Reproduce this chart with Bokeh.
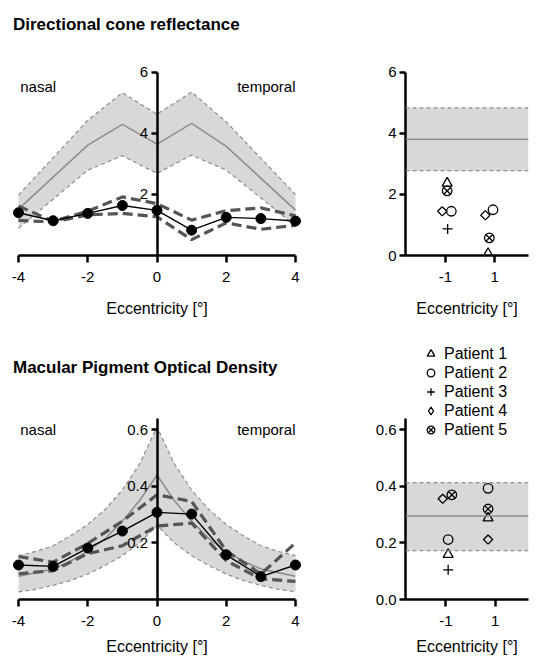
from bokeh.plotting import figure
from bokeh.models import (Range1d, LinearAxis, FixedTicker, PrintfTickFormatter, Label,
                          BoxAnnotation, Span, Legend, LegendItem)
from bokeh.layouts import column, row
from bokeh.embed import file_html
from bokeh.resources import INLINE

FONT = "Liberation Sans"
nan = float("nan")

# ---------------- data ----------------
ecc = [-4, -3, -2, -1, 0, 1, 2, 3, 4]

# Directional cone reflectance: normative band (mean +/- SD)
dcr_norm_x = [-4, -2, -1, 0, 1, 2, 4]
dcr_norm_mean = [1.52, 3.62, 4.30, 3.65, 4.33, 3.58, 1.49]
dcr_norm_upper = [1.98, 4.43, 5.34, 4.63, 5.36, 4.38, 2.00]
dcr_norm_lower = [0.89, 2.80, 3.27, 2.69, 3.29, 2.80, 0.97]

# Directional cone reflectance: patients mean +/- SD
dcr_pat_mean = [1.40, 1.14, 1.38, 1.64, 1.48, 0.83, 1.25, 1.21, 1.13]
dcr_pat_upper = [1.62, 1.12, 1.45, 1.92, 1.70, 1.16, 1.47, 1.56, 1.30]
dcr_pat_lower = [1.15, 1.10, 1.33, 1.38, 1.27, 0.52, 1.07, 0.86, 0.99]

# Macular pigment optical density: normative band
mpod_norm_x = [-4, -3.5, -3, -2.5, -2, -1.5, -1, -0.5, 0, 0.5, 1, 1.5, 2, 2.5, 3, 3.5, 4]
mpod_norm_mean = [0.082, 0.095, 0.108, 0.135, 0.170, 0.215, 0.277, 0.350, 0.440,
                  0.350, 0.277, 0.215, 0.170, 0.135, 0.108, 0.095, 0.082]
mpod_norm_upper = [0.155, 0.170, 0.190, 0.225, 0.265, 0.318, 0.387, 0.480, 0.610,
                   0.480, 0.387, 0.318, 0.265, 0.225, 0.190, 0.170, 0.155]
mpod_norm_lower = [0.027, 0.036, 0.050, 0.067, 0.090, 0.120, 0.155, 0.200, 0.262,
                   0.200, 0.155, 0.120, 0.090, 0.067, 0.050, 0.036, 0.027]

# Macular pigment optical density: patients mean +/- SD
mpod_pat_mean = [0.122, 0.117, 0.182, 0.242, 0.308, 0.302, 0.158, 0.081, 0.122]
mpod_pat_upper = [0.152, 0.132, 0.198, 0.277, 0.370, 0.347, 0.172, 0.090, 0.200]
mpod_pat_lower = [0.091, 0.102, 0.162, 0.190, 0.260, 0.270, 0.137, 0.073, 0.064]

# Individual patients (right panels)
patients = ["Patient 1", "Patient 2", "Patient 3", "Patient 4", "Patient 5"]
markers = ["triangle", "circle", "cross", "square", "circle_x"]
legend_markers = ["triangle", "circle", "cross", "diamond", "circle_x"]
marker_angles = [0.0, 0.0, 0.0, 0.7854, 0.0]
marker_sizes = [10, 9.5, 10, 6.5, 9.5]

dcr_x_m1 = [-0.93, -0.76, -0.91, -1.13, -0.93]
dcr_x_p1 = [0.73, 0.93, nan, 0.62, 0.78]
dcr_val_m1 = [2.37, 1.45, 0.87, 1.45, 2.12]
dcr_val_p1 = [0.06, 1.50, nan, 1.32, 0.58]
dcr_ref = [2.78, 3.81, 4.84]   # lower, mean, upper

mpod_x_m1 = [-0.91, -0.91, -0.91, -1.13, -0.76]
mpod_x_p1 = [0.71, 0.71, nan, 0.71, 0.71]
mpod_val_m1 = [0.159, 0.212, 0.105, 0.356, 0.370]
mpod_val_p1 = [0.288, 0.393, nan, 0.212, 0.320]
mpod_ref = [0.173, 0.295, 0.413]

BAND_FILL = "#d8d8d8"
BAND_EDGE = "#8f8f8f"
DARK_DASH = "#555555"


def style_axis(ax, tick_out=6, standoff=4):
    ax.axis_line_width = 2.5
    ax.axis_line_color = "black"
    ax.major_tick_line_width = 2.5
    ax.major_tick_line_color = "black"
    ax.major_tick_in = 0
    ax.major_tick_out = tick_out
    ax.minor_tick_line_color = None
    ax.major_label_standoff = standoff
    ax.major_label_text_font = FONT
    ax.major_label_text_font_size = "15px"
    ax.major_label_text_color = "black"
    ax.axis_label_text_font = FONT
    ax.axis_label_text_font_size = "16px"
    ax.axis_label_text_font_style = "normal"
    ax.axis_label_text_color = "black"


def base_fig(width, height, xr, yr, mb):
    p = figure(width=width, height=height, x_range=Range1d(*xr), y_range=Range1d(*yr),
               output_backend="svg", toolbar_location=None,
               x_axis_location="below", y_axis_location=None,
               min_border_left=mb[0], min_border_right=mb[1],
               min_border_top=mb[2], min_border_bottom=mb[3])
    p.outline_line_color = None
    p.xgrid.visible = False
    p.ygrid.visible = False
    p.background_fill_color = "white"
    p.border_fill_color = "white"
    return p


def x_axis(p, ticks, label_standoff, bounds=None):
    xa = p.xaxis[0]
    style_axis(xa, tick_out=7, standoff=9)
    xa.ticker = FixedTicker(ticks=ticks)
    xa.formatter = PrintfTickFormatter(format="%d")
    if bounds is not None:
        xa.bounds = bounds
    xa.axis_label = "Eccentricity [°]"
    xa.axis_label_standoff = label_standoff


def left_panel(height, mb, lab_so, y_end, y_top, yticks, title, title_y, txt_y,
               nx, nmean, nup, nlo, pmean, pup, plo):
    p = base_fig(355, height, (-4.289, 4.289), (0, y_end), mb)
    x_axis(p, [-4, -2, 0, 2, 4], lab_so, bounds=(-4, 4))

    ya = LinearAxis(fixed_location=0, ticker=FixedTicker(ticks=yticks), bounds=(0, y_top))
    style_axis(ya, tick_out=6, standoff=3)
    p.add_layout(ya, "left")

    p.varea(x=nx, y1=nlo, y2=nup, fill_color=BAND_FILL)
    p.line(nx, nup, line_color=BAND_EDGE, line_width=1.2, line_dash="4 3")
    p.line(nx, nlo, line_color=BAND_EDGE, line_width=1.2, line_dash="4 3")
    p.line(nx, nmean, line_color=BAND_EDGE, line_width=1.6)

    p.line(ecc, pup, line_color=DARK_DASH, line_width=3.2, line_dash="10 5")
    p.line(ecc, plo, line_color=DARK_DASH, line_width=3.2, line_dash="10 5")
    p.line(ecc, pmean, line_color="black", line_width=1.4)
    p.scatter(ecc, pmean, size=10, fill_color="black", line_color="black")

    p.add_layout(Label(x=-4.16, y=title_y, text=title,
                       text_font=FONT, text_font_size="17px", text_font_style="bold",
                       text_baseline="alphabetic", text_color="black"))
    p.add_layout(Label(x=-3.95, y=txt_y, text="nasal", text_font=FONT,
                       text_font_size="15px", text_baseline="alphabetic",
                       text_align="left", text_color="black"))
    p.add_layout(Label(x=4.0, y=txt_y, text="temporal", text_font=FONT,
                       text_font_size="15px", text_baseline="alphabetic",
                       text_align="right", text_color="black"))
    return p


def right_panel(height, mb, lab_so, xr, y_end, y_top, yticks, yfmt, ref, xm1, xp1, vm1, vp1,
                legend=False):
    p = base_fig(181, height, xr, (0, y_end), mb)
    x_axis(p, [-1, 1], lab_so)

    ya = LinearAxis(ticker=FixedTicker(ticks=yticks), formatter=PrintfTickFormatter(format=yfmt),
                    bounds=(0, y_top))
    style_axis(ya, tick_out=6, standoff=3)
    p.add_layout(ya, "left")

    p.add_layout(BoxAnnotation(bottom=ref[0], top=ref[2], fill_color=BAND_FILL,
                               fill_alpha=1.0, line_color=None, level="underlay"))
    p.add_layout(Span(location=ref[0], dimension="width", line_color=BAND_EDGE,
                      line_width=1.2, line_dash="4 3"))
    p.add_layout(Span(location=ref[2], dimension="width", line_color=BAND_EDGE,
                      line_width=1.2, line_dash="4 3"))
    p.add_layout(Span(location=ref[1], dimension="width", line_color=BAND_EDGE,
                      line_width=1.6))

    items = []
    for i, (name, mk) in enumerate(zip(patients, markers)):
        r = p.scatter([xm1[i], xp1[i]], [vm1[i], vp1[i]], marker=mk,
                      size=marker_sizes[i], angle=marker_angles[i],
                      fill_color=None, line_color="black", line_width=1.3)
        if legend_markers[i] != mk:
            # legend glyphs are never rotated: a separate (undrawn) diamond glyph for the key
            r = p.scatter(x=[nan], y=[nan], marker=legend_markers[i], size=marker_sizes[i],
                          fill_color=None, line_color="black", line_width=1.3)
        items.append(LegendItem(label=name, renderers=[r]))
    if legend:
        lg = Legend(items=items, location=(16, 160), padding=0, margin=0, spacing=0,
                    glyph_width=19, glyph_height=19, label_height=19, label_standoff=4,
                    label_text_font=FONT, label_text_font_size="16px",
                    label_text_color="black", border_line_color=None,
                    background_fill_alpha=0)
        p.add_layout(lg, "center")
    return p


H1, H2 = 330, 327
p1 = left_panel(H1, (8, 50, 2, 75), 15, 8.295, 6, [2, 4, 6], "Directional cone reflectance",
                7.57, 5.55,
                dcr_norm_x, dcr_norm_mean, dcr_norm_upper, dcr_norm_lower,
                dcr_pat_mean, dcr_pat_upper, dcr_pat_lower)
p2 = right_panel(H1, (50, 8, 2, 75), 15, (-2.62, 2.37), 8.295, 6, [0, 2, 4, 6], "%d", dcr_ref,
                 dcr_x_m1, dcr_x_p1, dcr_val_m1, dcr_val_p1)
p3 = left_panel(H2, (8, 50, 2, 56), 9, 0.944, 0.64, [0.2, 0.4, 0.6],
                "Macular Pigment Optical Density", 0.822, 0.6,
                mpod_norm_x, mpod_norm_mean, mpod_norm_upper, mpod_norm_lower,
                mpod_pat_mean, mpod_pat_upper, mpod_pat_lower)
p4 = right_panel(H2, (50, 8, 2, 56), 9, (-2.64, 2.35), 0.944, 0.64, [0.0, 0.2, 0.4, 0.6], "%.1f",
                 mpod_ref, mpod_x_m1, mpod_x_p1, mpod_val_m1, mpod_val_p1, legend=True)

layout = column(row(p1, p2), row(p3, p4))
open("out.html", "w").write(file_html(layout, INLINE))
